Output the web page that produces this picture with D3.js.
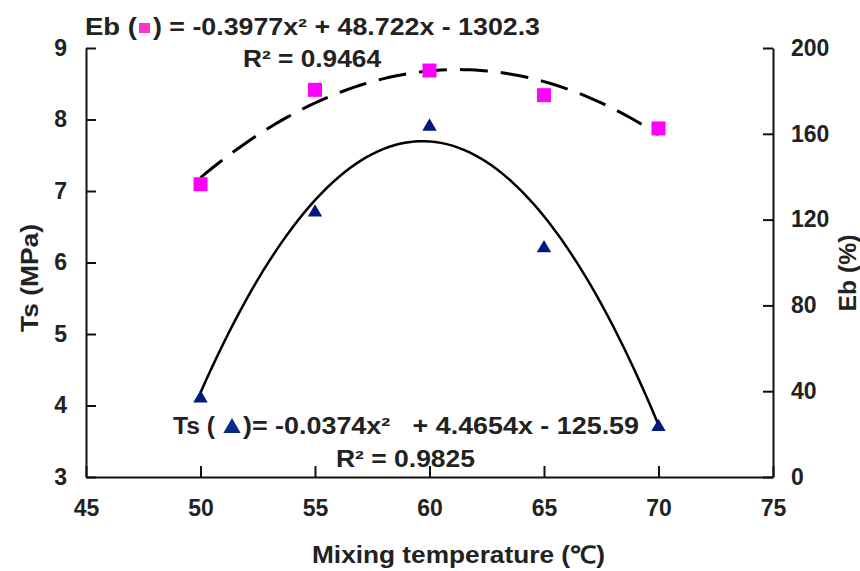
<!DOCTYPE html>
<html>
<head>
<meta charset="utf-8">
<script src="https://cdn.jsdelivr.net/npm/d3@7"></script>
<style>
  body { margin: 0; background: #fff; }
  text { font-family: "Liberation Sans", Arial, sans-serif; font-weight: bold; fill: #222; }
</style>
</head>
<body>
<div class="content"></div>
<script>
// data
var temps = [50, 55, 60, 65, 70];
var tsValues = [4.1, 6.7, 7.9, 6.2, 3.7];          // MPa, left axis
var ebValues = [136.5, 180.5, 189.5, 178, 162.5];  // %, right axis

// trend line coefficients (as printed on the chart): a*x^2 + b*x + c
var tsFit = [-0.0374, 4.4654, -125.59];
var ebFit = [-0.3977, 48.722, -1302.3];

var xTicks = [45, 50, 55, 60, 65, 70, 75];
var tsTicks = [3, 4, 5, 6, 7, 8, 9];
var ebTicks = [0, 40, 80, 120, 160, 200];

// set the dimensions and margins of the graph
var margin = {top: 48, right: 87, bottom: 94, left: 86},
    width = 860 - margin.left - margin.right,
    height = 571 - margin.top - margin.bottom;

var svg = d3.select(".content")
    .append("svg")
    .attr("width", width + margin.left + margin.right)
    .attr("height", height + margin.top + margin.bottom);

var g = svg.append("g")
    .attr("transform", "translate(" + margin.left + "," + margin.top + ")");

var x = d3.scaleLinear().domain([45, 75]).range([0, width]);
var yTs = d3.scaleLinear().domain([3, 9]).range([height, 0]);
var yEb = d3.scaleLinear().domain([0, 200]).range([height, 0]);

function styleAxis(sel) {
    sel.select(".domain").attr("stroke", "#111").attr("stroke-width", 2);
    sel.selectAll(".tick line").attr("stroke", "#111").attr("stroke-width", 2);
    sel.selectAll(".tick text")
        .style("font-size", "23px")
        .style("font-family", "'Liberation Sans', Arial, sans-serif")
        .style("font-weight", "bold")
        .attr("fill", "#222");
}

// axes, ticks pointing inwards
g.append("g")
    .attr("transform", "translate(0," + height + ")")
    .call(d3.axisBottom(x).tickValues(xTicks).tickFormat(d3.format("d"))
        .tickSizeInner(-11).tickSizeOuter(0).tickPadding(23))
    .call(styleAxis);

g.append("g")
    .call(d3.axisLeft(yTs).tickValues(tsTicks).tickFormat(d3.format("d"))
        .tickSizeInner(-10).tickSizeOuter(0).tickPadding(19))
    .call(styleAxis);

g.append("g")
    .attr("transform", "translate(" + width + ",0)")
    .call(d3.axisRight(yEb).tickValues(ebTicks).tickFormat(d3.format("d"))
        .tickSizeInner(-10).tickSizeOuter(0).tickPadding(18))
    .call(styleAxis);

// trend lines from the printed equations
function poly(c) { return function(t) { return c[0] * t * t + c[1] * t + c[2]; }; }
var xs = d3.range(50, 70.01, 0.25);

g.append("path")
    .datum(xs)
    .attr("fill", "none")
    .attr("stroke", "#000")
    .attr("stroke-width", 3)
    .attr("stroke-dasharray", "28,13")
    .attr("d", d3.line()
        .x(function(d) { return x(d); })
        .y(function(d) { return yEb(poly(ebFit)(d)); }));

g.append("path")
    .datum(xs)
    .attr("fill", "none")
    .attr("stroke", "#000")
    .attr("stroke-width", 2.5)
    .attr("d", d3.line()
        .x(function(d) { return x(d); })
        .y(function(d) { return yTs(poly(tsFit)(d)); }));

// markers
var sq = d3.symbol().type(d3.symbolSquare).size(196);
var tri = d3.symbol().type(d3.symbolTriangle).size(90);

g.selectAll(".eb")
    .data(temps)
    .enter().append("path")
    .attr("class", "eb")
    .attr("d", sq)
    .attr("fill", "#ff00ff")
    .attr("transform", function(d, i) { return "translate(" + x(d) + "," + yEb(ebValues[i]) + ")"; });

g.selectAll(".ts")
    .data(temps)
    .enter().append("path")
    .attr("class", "ts")
    .attr("d", tri)
    .attr("fill", "#001a80")
    .attr("transform", function(d, i) { return "translate(" + x(d) + "," + yTs(tsValues[i]) + ")"; });

// equation labels
function label(txt, px, py, len, size) {
    var t = svg.append("text")
        .attr("x", px).attr("y", py)
        .style("font-size", (size || 23) + "px")
        .text(txt);
    if (len) t.attr("textLength", len).attr("lengthAdjust", "spacingAndGlyphs");
    return t;
}

label("Eb (", 85, 35, 52);
svg.append("rect").attr("x", 139).attr("y", 23).attr("width", 11).attr("height", 10).attr("fill", "#ff33cc");
label(") = -0.3977x\u00b2 + 48.722x - 1302.3", 153, 35, 387);
label("R\u00b2 = 0.9464", 243, 67, 138);

label("Ts (", 173, 434, 42);
svg.append("path")
    .attr("d", d3.symbol().type(d3.symbolTriangle).size(130))
    .attr("fill", "#0a2a8a")
    .attr("transform", "translate(232,428)");
label(")= -0.0374x\u00b2   + 4.4654x - 125.59", 243, 434, 396).style("white-space", "pre");
label("R\u00b2 = 0.9825", 336, 467, 139);

// axis titles
label("Mixing temperature (\u2103)", 312, 563, 293, 24);

svg.append("text")
    .attr("transform", "translate(38,278) rotate(-90)")
    .attr("text-anchor", "middle")
    .attr("textLength", 108)
    .attr("lengthAdjust", "spacingAndGlyphs")
    .style("font-size", "23px")
    .text("Ts (MPa)");

svg.append("text")
    .attr("transform", "translate(856,273) rotate(-90)")
    .attr("text-anchor", "middle")
    .attr("textLength", 77)
    .attr("lengthAdjust", "spacingAndGlyphs")
    .style("font-size", "23px")
    .text("Eb (%)");
</script>
</body>
</html>
